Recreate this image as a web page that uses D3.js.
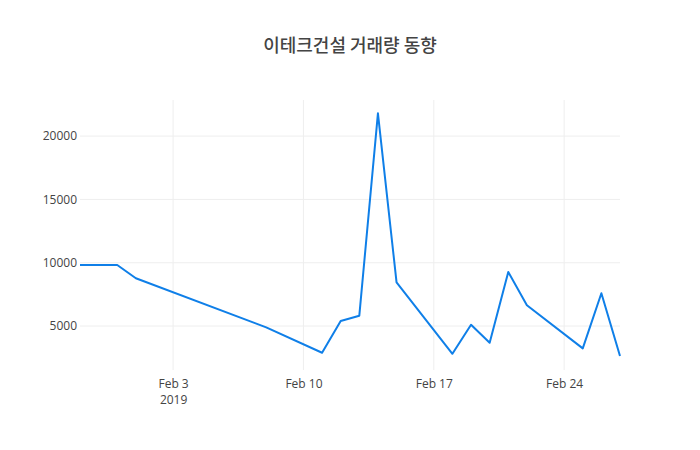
<!DOCTYPE html>
<html>
<head>
<meta charset="utf-8">
<script src="https://cdn.jsdelivr.net/npm/d3@7"></script>
<style>
  body { margin: 0; background: #fff; }
  text { font-family: "Open Sans", "Noto Sans CJK KR", sans-serif; fill: #444; }
</style>
</head>
<body>
<div class="chart"></div>
<script>
// trading dates and daily volume
var dates = ["2019-01-29", "2019-01-30", "2019-01-31", "2019-02-01", "2019-02-08",
  "2019-02-11", "2019-02-12", "2019-02-13", "2019-02-14", "2019-02-15",
  "2019-02-18", "2019-02-19", "2019-02-20", "2019-02-21", "2019-02-22",
  "2019-02-25", "2019-02-26", "2019-02-27"];
var volumes = [9820, 9820, 9820, 8770, 4900,
  2890, 5400, 5820, 21800, 8450,
  2810, 5100, 3680, 9270, 6640,
  3240, 7590, 2630];
var xTicks = ["2019-02-03", "2019-02-10", "2019-02-17", "2019-02-24"];
var yTicks = [5000, 10000, 15000, 20000];
var title = "이테크건설 거래량 동향";

var margin = {top: 100, right: 80, bottom: 80, left: 80},
    W = 700, H = 450,
    width = W - margin.left - margin.right,
    height = H - margin.top - margin.bottom;

var parse = d3.timeParse("%Y-%m-%d");
var pts = dates.map(function(d, i) { return {date: parse(d), v: volumes[i]}; });

var svg = d3.select("div.chart").append("svg")
  .attr("width", W).attr("height", H);

var g = svg.append("g").attr("transform", "translate(" + margin.left + "," + margin.top + ")");

var x = d3.scaleTime().domain(d3.extent(pts, function(d) { return d.date; })).range([0, width]);
var y = d3.scaleLinear().domain([1530, 22850]).range([height, 0]);

// grid
g.append("g").selectAll("line.vg").data(xTicks.map(parse)).enter().append("line")
  .attr("x1", function(d) { return x(d); }).attr("x2", function(d) { return x(d); })
  .attr("y1", 0).attr("y2", height)
  .attr("stroke", "#eee").attr("stroke-width", 1);
g.append("g").selectAll("line.hg").data(yTicks).enter().append("line")
  .attr("x1", 0).attr("x2", width)
  .attr("y1", function(d) { return y(d); }).attr("y2", function(d) { return y(d); })
  .attr("stroke", "#eee").attr("stroke-width", 1);

// axes (labels only)
var fmt = d3.timeFormat("%b %-d");
var xAxis = g.append("g").attr("transform", "translate(0," + height + ")")
  .call(d3.axisBottom(x).tickValues(xTicks.map(parse)).tickFormat(fmt).tickSize(0).tickPadding(9));
xAxis.select(".domain").remove();
xAxis.selectAll("text").style("font-size", "12px").attr("fill", "#444");
xAxis.selectAll(".tick").filter(function(d, i) { return i === 0; })
  .append("text").attr("y", 25).attr("dy", "0.71em").attr("text-anchor", "middle")
  .style("font-size", "12px").attr("fill", "#444").text("2019");

var yAxis = g.append("g")
  .call(d3.axisLeft(y).tickValues(yTicks).tickFormat(d3.format("d")).tickSize(0).tickPadding(3));
yAxis.select(".domain").remove();
yAxis.selectAll("text").style("font-size", "12px").attr("fill", "#444");

// line
var line = d3.line().x(function(d) { return x(d.date); }).y(function(d) { return y(d.v); });
g.append("path").datum(pts)
  .attr("fill", "none").attr("stroke", "#0f7fe8").attr("stroke-width", 2)
  .attr("stroke-linejoin", "round")
  .attr("d", line);

svg.append("text").attr("x", W / 2).attr("y", 46).attr("dy", "0.35em")
  .attr("text-anchor", "middle").style("font-size", "18px").style("font-weight", "500")
  .style("font-family", "'Noto Sans CJK KR', sans-serif").attr("fill", "#333").text(title);
</script>
</body>
</html>
